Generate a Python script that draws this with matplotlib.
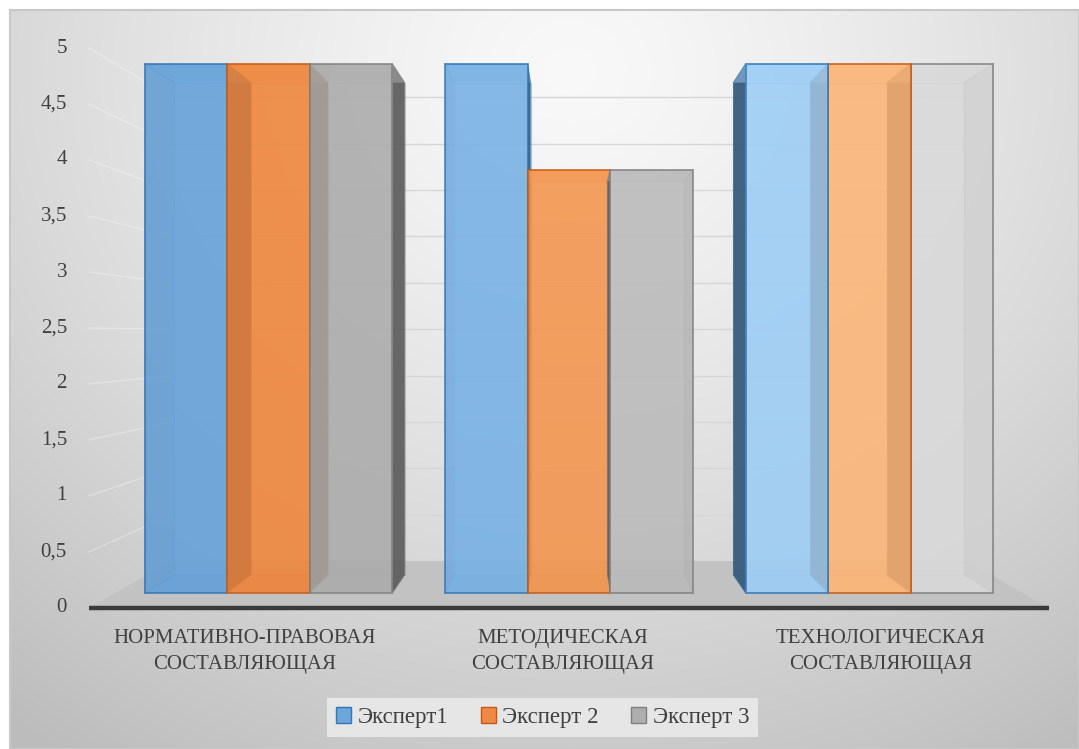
import numpy as np
import matplotlib
matplotlib.use("Agg")
import matplotlib.pyplot as plt
from matplotlib.patches import Polygon, Patch
from matplotlib.colors import to_rgb

plt.rcParams["font.family"] = ["Liberation Serif", "DejaVu Serif"]

# --- data ---
categories = ["НОРМАТИВНО-ПРАВОВАЯ\nСОСТАВЛЯЮЩАЯ",
              "МЕТОДИЧЕСКАЯ\nСОСТАВЛЯЮЩАЯ",
              "ТЕХНОЛОГИЧЕСКАЯ\nСОСТАВЛЯЮЩАЯ"]
series_names = ["Эксперт1", "Эксперт 2", "Эксперт 3"]
expert1 = [5, 5, 5]
expert2 = [5, 4, 5]
expert3 = [5, 4, 5]
y_ticks = [0, 0.5, 1, 1.5, 2, 2.5, 3, 3.5, 4, 4.5, 5]

series = [expert1, expert2, expert3]
base_colors = ["#5b9bd5", "#ed7d31", "#a5a5a5"]
light_colors = ["#a8d6fc", "#ffbf82", "#e2e2e2"]
edge_colors = ["#2e75b6", "#c65911", "#7f7f7f"]
group_light = [0.1, 0.35, 0.85]   # later groups look lighter in the original

# perspective: vanishing point (category units, value units) and depth scales
XV, YV = 1.0, 2.44
S_FRONT, S_BAR_F, S_BAR_B, S_WALL = 1.0, 0.945, 0.879, 0.828
BAR_W = 0.275
X_LEFT, X_RIGHT = -0.51, 2.51

W, H = 1079, 749
PX_X, PX_Y = 318.0, 112.0      # pixels per category / per value unit (front plane)
X0_PX, Y0_PX = 569.0, 608.0    # screen position of category 1 / value 0


def P(x, y, s):
    return (XV + (x - XV) * s, YV + (y - YV) * s)


def mix(c, t, other="#ffffff"):
    c = np.array(to_rgb(c))
    return tuple(c * (1 - t) + np.array(to_rgb(other)) * t)


def draw_box(ax, x0, x1, v, color, edge, dark, z):
    f = [P(x0, 0, S_BAR_F), P(x1, 0, S_BAR_F), P(x1, v, S_BAR_F), P(x0, v, S_BAR_F)]
    b = [P(x0, 0, S_BAR_B), P(x1, 0, S_BAR_B), P(x1, v, S_BAR_B), P(x0, v, S_BAR_B)]
    ax.add_patch(Polygon(b, closed=True, facecolor=color, alpha=0.35,
                         edgecolor=edge, lw=0.8, zorder=z))
    ax.add_patch(Polygon([f[0], f[1], b[1], b[0]], facecolor=color, alpha=0.5,
                         edgecolor="none", zorder=z))
    # side faces: the one sticking out of the front face is dark and solid
    left_outer = b[0][0] < f[0][0]
    for i, j, outer in [(0, 3, left_outer), (1, 2, not left_outer)]:
        ax.add_patch(Polygon([f[i], b[i], b[j], f[j]], facecolor=dark,
                             alpha=0.9 if outer else 0.3,
                             edgecolor="none", zorder=z + 0.1))
    ax.add_patch(Polygon([f[3], f[2], b[2], b[3]], facecolor=color, alpha=0.5,
                         edgecolor="none", zorder=z + 0.1))
    for i in range(4):
        ax.plot([f[i][0], b[i][0]], [f[i][1], b[i][1]], color=edge, lw=0.7,
                alpha=0.6, zorder=z + 0.2)
    ax.add_patch(Polygon(f, closed=True, facecolor=color, alpha=0.82,
                         edgecolor=edge, lw=1.3, zorder=z + 0.3))


fig = plt.figure(figsize=(W / 100, H / 100), dpi=100)
fig.patch.set_facecolor("white")

# background gradient (chart area)
bg = fig.add_axes([0, 0, 1, 1])
bg.set_xlim(0, W)
bg.set_ylim(H, 0)
bg.axis("off")
gx, gy = np.meshgrid(np.linspace(10, W, 400), np.linspace(10, H, 300))
d = np.hypot(gx - 570, (gy - 70) * 1.1) / 800
g = np.clip(0.975 - 0.2 * d ** 1.3, 0.74, 1)
bg.imshow(np.dstack([g, g, g]), extent=(10, W, H, 10), aspect="auto",
          interpolation="bilinear", zorder=0)
bg.plot([10, W, W, 10, 10], [10, 10, H, H, 10], color="#c8c8c8", lw=1.5, zorder=1)

ax = fig.add_axes([0, 0, 1, 1])
ax.patch.set_alpha(0)
ax.set_xlim(1 - X0_PX / PX_X, 1 + (W - X0_PX) / PX_X)
ax.set_ylim(-(H - Y0_PX) / PX_Y, Y0_PX / PX_Y)
ax.axis("off")

# back wall gridlines and side wall lines
for t in y_ticks[1:]:
    a, b = P(X_LEFT, t, S_WALL), P(X_RIGHT, t, S_WALL)
    ax.plot([a[0], b[0]], [a[1], b[1]], color="#d6d6d6", lw=1.0, zorder=2)
    c = P(X_LEFT, t, S_FRONT)
    ax.plot([c[0], a[0]], [c[1], a[1]], color="white", alpha=0.3, lw=1.0, zorder=2)

# floor
floor = [P(X_LEFT, 0, S_FRONT), P(X_RIGHT, 0, S_FRONT),
         P(X_RIGHT, 0, S_WALL), P(X_LEFT, 0, S_WALL)]
ax.add_patch(Polygon(floor, closed=True, facecolor="#c2c2c2", edgecolor="none", zorder=3))

# bars
n = len(series)
for gi in range(len(categories)):
    order = list(range(n)) if gi < 2 else list(reversed(range(n)))
    for k, si in enumerate(order):
        x0 = gi - n * BAR_W / 2 + si * BAR_W
        col = mix(base_colors[si], group_light[gi], light_colors[si])
        dark = mix(base_colors[si], 0.45, "#000000")
        draw_box(ax, x0, x0 + BAR_W, series[si][gi], col, edge_colors[si], dark, 10 + k)

# front axis line
a, b = P(X_LEFT, 0, S_FRONT), P(X_RIGHT, 0, S_FRONT)
ax.plot([a[0], b[0]], [a[1], b[1]], color="#3a3a3a", lw=3.2, solid_capstyle="butt", zorder=30)

# value labels
for t in y_ticks:
    lab = ("%g" % t).replace(".", ",")
    ax.text(1 - (X0_PX - 67) / PX_X, t, lab, ha="right", va="center",
            fontsize=15, color="#404040", zorder=31)

# category labels
for gi, cat in enumerate(categories):
    ax.text(gi - 0.02, -0.19, cat, ha="center", va="top", fontsize=15,
            color="#404040", linespacing=1.45, zorder=31)

handles = [Patch(facecolor=mix(c, 0.1), edgecolor=e, lw=1.0)
           for c, e in zip(base_colors, edge_colors)]
leg = fig.legend(handles, series_names, loc="center", bbox_to_anchor=(0.503, 0.042),
                 ncol=3, fontsize=16.5, frameon=True, fancybox=False,
                 handlelength=0.65, handleheight=0.65, handletextpad=0.3,
                 columnspacing=1.4, borderpad=0.4)
leg.get_frame().set_facecolor("#e6e6e6")
leg.get_frame().set_edgecolor("none")
leg.get_frame().set_alpha(1)
for txt in leg.get_texts():
    txt.set_color("#404040")

fig.savefig("out.png", dpi=100, facecolor=fig.get_facecolor())
